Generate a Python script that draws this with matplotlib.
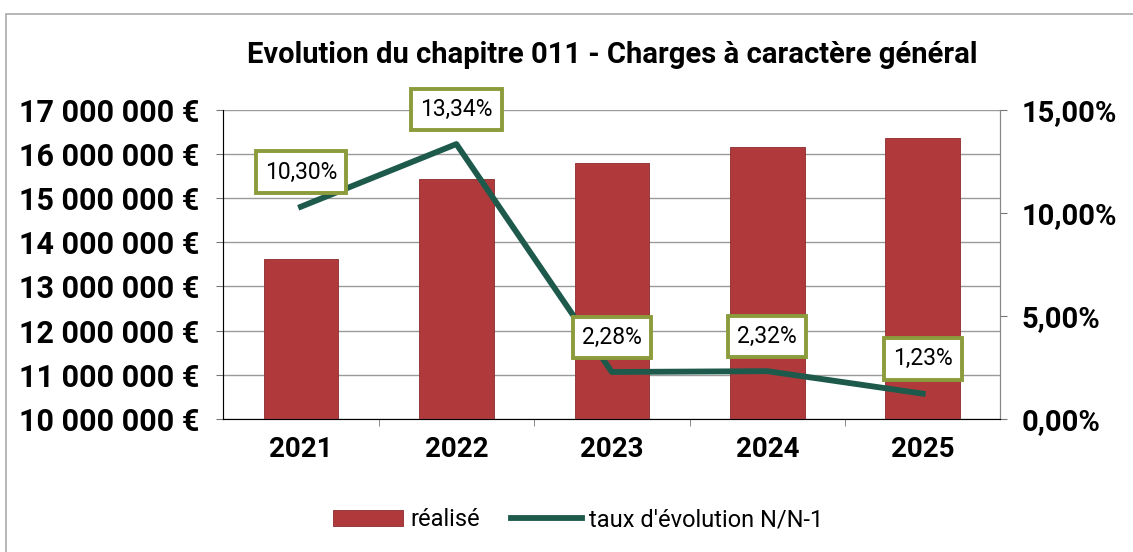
import matplotlib
matplotlib.use("Agg")
import matplotlib.pyplot as plt
from matplotlib.patches import Rectangle

years = ["2021", "2022", "2023", "2024", "2025"]
realise = [13.62e6, 15.44e6, 15.79e6, 16.16e6, 16.36e6]
taux = [10.30, 13.34, 2.28, 2.32, 1.23]
left_ticks = [10e6, 11e6, 12e6, 13e6, 14e6, 15e6, 16e6, 17e6]
right_ticks = [0, 5, 10, 15]

bar_color = "#b03a3b"
line_color = "#1e5a4c"
box_edge = "#8c9c3c"

plt.rcParams["font.family"] = ["Roboto", "DejaVu Sans"]

fig = plt.figure(figsize=(11.33, 5.52), dpi=100)
ax = fig.add_axes([0.197, 0.241, 0.686, 0.560])
x = list(range(len(years)))

ax.bar(x, realise, width=0.48, color=bar_color, edgecolor="#8e2a2c", linewidth=0.6, zorder=2, label="réalisé")
ax.set_ylim(10e6, 17e6)
ax.set_xlim(-0.5, 4.5)
ax.set_yticks(left_ticks)
ax.set_yticklabels(["{:,.0f} €".format(v).replace(",", " ") for v in left_ticks],
                   fontsize=22, fontweight="bold")
ax.set_xticks(x)
ax.set_xticklabels(years, fontsize=20, fontweight="bold")
ax.set_xticks([0.5, 1.5, 2.5, 3.5], minor=True)
ax.tick_params(axis="x", which="major", length=0, pad=12)
ax.tick_params(axis="x", which="minor", length=5, color="#777777")
ax.tick_params(axis="y", length=5, color="#777777", pad=12)
ax.grid(axis="y", color="#9a9a9a", linewidth=1.0, zorder=0)
ax.spines["top"].set_visible(False)
for s in ["left", "bottom", "right"]:
    ax.spines[s].set_color("#888888")

ax2 = ax.twinx()
ax2.plot(x, taux, color=line_color, linewidth=4.2, zorder=3, label="taux d'évolution N/N-1")
ax2.set_ylim(0, 15)
ax2.set_yticks(right_ticks)
ax2.set_yticklabels(["{:.2f}%".format(v).replace(".", ",") for v in right_ticks],
                    fontsize=21, fontweight="bold")
ax2.tick_params(axis="y", length=5, color="#777777", pad=10)
ax2.spines["top"].set_visible(False)
ax2.spines["right"].set_color("#888888")

for xi, t in zip(x, taux):
    ax2.annotate("{:.2f}%".format(t).replace(".", ","), (xi, t), xytext=(0, 25),
                 textcoords="offset points", ha="center", va="center", fontsize=16.5,
                 bbox=dict(boxstyle="square,pad=0.4", facecolor="white",
                           edgecolor=box_edge, linewidth=2.8), zorder=5)

fig.text(0.54, 0.90, "Evolution du chapitre 011 - Charges à caractère général",
         ha="center", va="center", fontsize=21, fontweight="bold")

h1, l1 = ax.get_legend_handles_labels()
h2, l2 = ax2.get_legend_handles_labels()
fig.legend(h1 + h2, l1 + l2, loc="center", bbox_to_anchor=(0.51, 0.058), ncol=2,
           frameon=False, fontsize=17, handlelength=3.0, columnspacing=1.3, handletextpad=0.3)

fig.patches.append(Rectangle((0.005, -0.01), 1.0, 0.985, transform=fig.transFigure,
                             fill=False, edgecolor="#aaaaaa", linewidth=1.2))

fig.savefig("out.png", dpi=100)
